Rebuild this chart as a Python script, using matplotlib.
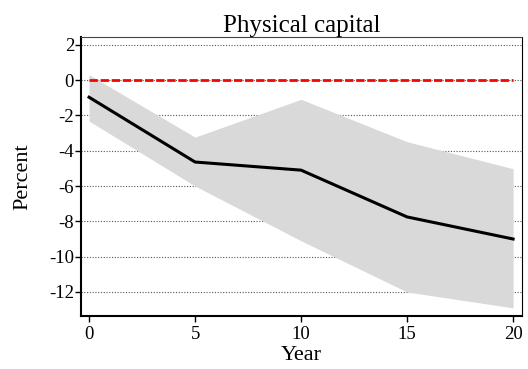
import numpy as np
import matplotlib
matplotlib.use('Agg')
import matplotlib.pyplot as plt

plt.rcParams['font.family'] = 'Liberation Serif'

years = [0, 5, 10, 15, 20]
response = [-0.97, -4.64, -5.1, -7.75, -9.0]
upper = [0.3, -3.23, -1.09, -3.49, -5.02]
lower = [-2.32, -6.0, -9.1, -12.0, -12.9]
yticks = [2, 0, -2, -4, -6, -8, -10, -12]

fig = plt.figure(figsize=(5.28, 3.69), dpi=100)
ax = fig.add_axes([81/528, 1-316/369, 441/528, 279/369])

ax.fill_between(years, lower, upper, color='#d9d9d9', lw=0, zorder=1)
for t in yticks:
    ax.axhline(t, color='#555555', lw=0.8, ls=(0, (1, 1.5)), zorder=0)
ax.plot(years, response, color='black', lw=2.2, zorder=3)
ax.plot([years[0], years[-1]], [0, 0], color='red', lw=2,
        dashes=[3, 1], zorder=2)

ax.set_xlim(-0.38, 20.42)
ax.set_ylim(-13.36, 2.44)
ax.set_xticks(years)
ax.set_yticks(yticks)
ax.tick_params(labelsize=13.5, direction='out', length=4, width=1)
ax.tick_params(axis='y', pad=1)
ax.tick_params(axis='x', pad=3)
ax.set_yticklabels([str(t) for t in yticks])

for s in ['left', 'bottom']:
    ax.spines[s].set_linewidth(1.5)
for s in ['top', 'right']:
    ax.spines[s].set_linewidth(0.8)
ax.spines['top'].set_color('#444444')

ax.set_title('Physical capital', fontsize=18, pad=3)
ax.set_xlabel('Year', fontsize=16, labelpad=2)
ax.set_ylabel('Percent', fontsize=16, labelpad=12)

fig.savefig('out.png', dpi=100)
